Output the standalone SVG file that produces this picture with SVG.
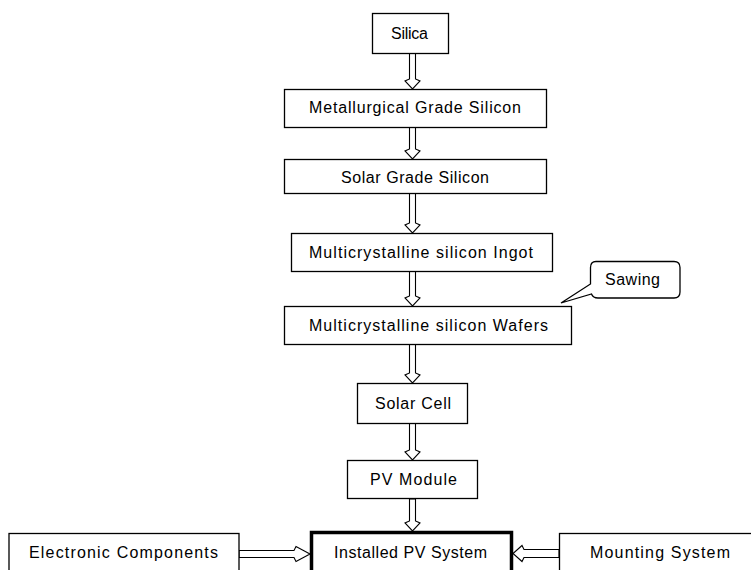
<svg xmlns="http://www.w3.org/2000/svg" width="751" height="570" viewBox="0 0 751 570">
<style>
.box{fill:#fff;stroke:#000;stroke-width:1.3}
.thick{fill:#fff;stroke:#000;stroke-width:3.5}
.arr{fill:#fff;stroke:#000;stroke-width:1.1;stroke-linejoin:miter}
.t{font-family:"Liberation Sans",Arial,sans-serif;font-size:16px;fill:#000;text-anchor:middle}
</style>
<rect width="751" height="570" fill="#fff"/>
<g id="connectors">
<polygon class="arr" points="409.5,53 409.5,79 405,81 412.5,89 420,81 415.5,79 415.5,53"/>
<polygon class="arr" points="409.5,127 409.5,149 405,151 412.5,159 420,151 415.5,149 415.5,127"/>
<polygon class="arr" points="409.5,193 409.5,223 405,225 412.5,233 420,225 415.5,223 415.5,193"/>
<polygon class="arr" points="409.5,271 409.5,296 405,298 412.5,306 420,298 415.5,296 415.5,271"/>
<polygon class="arr" points="409.5,344 409.5,373 405,375 412.5,383 420,375 415.5,373 415.5,344"/>
<polygon class="arr" points="409.5,423 409.5,450 405,452 412.5,460 420,452 415.5,450 415.5,423"/>
<polygon class="arr" points="409.5,499 409.5,521 405,523 412.5,531 420,523 415.5,521 415.5,499"/>
<polygon class="arr" points="239,550.5 294,550.5 296,546.5 310,554 296,561.5 294,557.5 239,557.5"/>
<polygon class="arr" points="559,549.5 524,549.5 522,545.5 513,553.5 522,561.5 524,557.5 559,557.5"/>
</g>
<g id="silica"><rect class="box" x="372.5" y="13.5" width="76" height="40"/><text class="t" x="409.5" y="38.5" textLength="37" lengthAdjust="spacing">Silica</text></g>
<g id="mg-silicon"><rect class="box" x="284.5" y="89.5" width="262" height="38"/><text class="t" x="415" y="112.5" textLength="212" lengthAdjust="spacing">Metallurgical Grade Silicon</text></g>
<g id="sg-silicon"><rect class="box" x="284.5" y="159.5" width="262" height="34"/><text class="t" x="415" y="183" textLength="148" lengthAdjust="spacing">Solar Grade Silicon</text></g>
<g id="ingot"><rect class="box" x="291.5" y="233.5" width="261" height="38"/><text class="t" x="421" y="257.5" textLength="224" lengthAdjust="spacing">Multicrystalline silicon Ingot</text></g>
<g id="wafers"><rect class="box" x="284.5" y="306.5" width="287" height="38"/><text class="t" x="428.5" y="331" textLength="239" lengthAdjust="spacing">Multicrystalline silicon Wafers</text></g>
<g id="sawing"><path class="box" d="M596,261.5 H674 Q680,261.5 680,267.5 V292 Q680,298 674,298 H598 Q593,298 591.5,294 L561,303 L590.5,284 V267.5 Q590.5,261.5 596,261.5 Z"/><text class="t" x="632.5" y="285" textLength="55" lengthAdjust="spacing">Sawing</text></g>
<g id="solar-cell"><rect class="box" x="357.5" y="383.5" width="110" height="40"/><text class="t" x="413" y="408.5" textLength="76" lengthAdjust="spacing">Solar Cell</text></g>
<g id="pv-module"><rect class="box" x="347.5" y="460.5" width="130" height="38"/><text class="t" x="413.5" y="485" textLength="87" lengthAdjust="spacing">PV Module</text></g>
<g id="electronic"><rect class="box" x="9" y="533.5" width="230" height="45"/><text class="t" x="123.5" y="558" textLength="189" lengthAdjust="spacing">Electronic Components</text></g>
<g id="installed"><rect class="thick" x="311.5" y="532.5" width="200" height="45"/><text class="t" x="410.5" y="558" textLength="153" lengthAdjust="spacing">Installed PV System</text></g>
<g id="mounting"><rect class="box" x="559.5" y="533.5" width="200" height="45"/><text class="t" x="660" y="558" textLength="140" lengthAdjust="spacing">Mounting System</text></g>
</svg>
